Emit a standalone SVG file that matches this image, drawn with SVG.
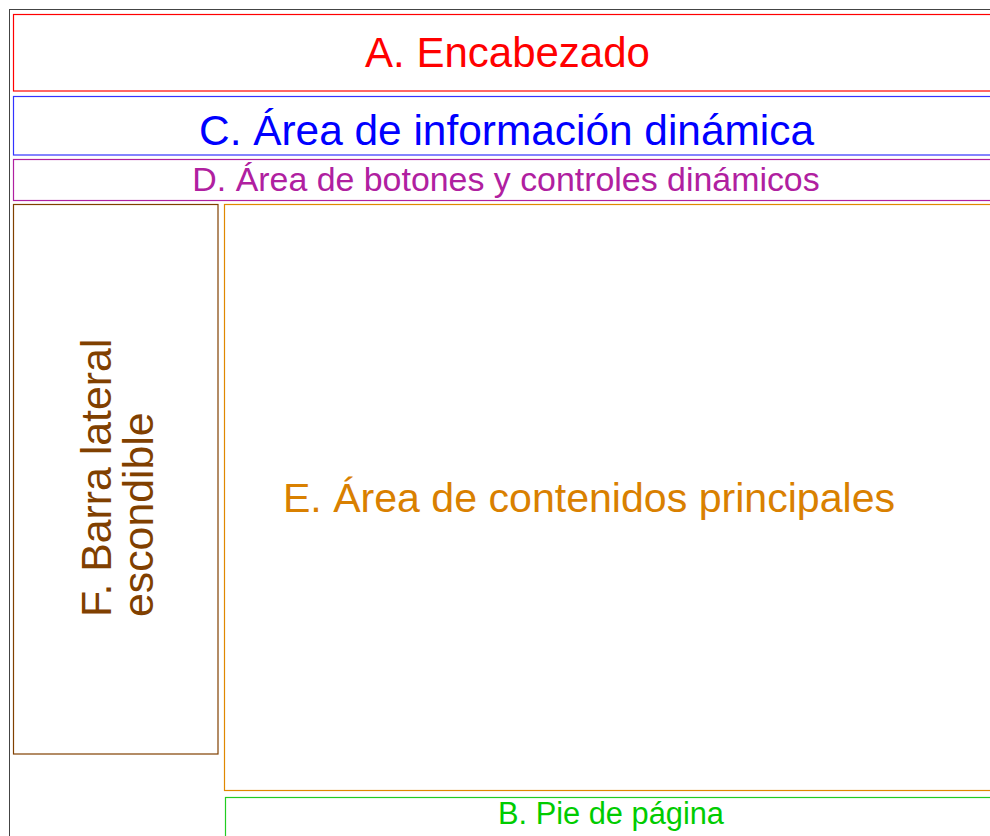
<svg xmlns="http://www.w3.org/2000/svg" width="990" height="836" viewBox="0 0 990 836">
<style>
.box{fill:none;stroke-width:1.2}
.t{font-family:"Liberation Sans",Arial,sans-serif}
</style>
<rect x="0" y="0" width="990" height="836" fill="#fff"/>
<g id="frame"><rect x="9.5" y="9.5" width="1000" height="900" fill="none" stroke="#444" stroke-width="1"/></g>
<g id="A"><rect class="box" x="13.5" y="14.5" width="1000" height="76.5" stroke="#ff0000"/>
<text class="t" x="507.5" y="67" font-size="42" fill="#ff0000" text-anchor="middle">A. Encabezado</text></g>
<g id="C"><rect class="box" x="13.5" y="96.5" width="1000" height="58.5" stroke="#3333ff"/>
<text class="t" x="506.5" y="145" font-size="42.4" fill="#0000ff" text-anchor="middle">C. Área de información dinámica</text></g>
<g id="D"><rect class="box" x="13.5" y="159.5" width="1000" height="41" stroke="#b020a0"/>
<text class="t" x="506" y="191" font-size="33.9" fill="#b020a0" text-anchor="middle">D. Área de botones y controles dinámicos</text></g>
<g id="F"><rect class="box" x="13.5" y="204.5" width="204.5" height="549.5" stroke="#804000"/>
<text class="t" font-size="42.8" fill="#804000" transform="translate(111,617) rotate(-90)">F. Barra lateral</text>
<text class="t" font-size="42.8" fill="#804000" transform="translate(153,617) rotate(-90)">escondible</text></g>
<g id="E"><rect class="box" x="224.5" y="204.5" width="800" height="586" stroke="#e08800"/>
<text class="t" x="589" y="511.5" font-size="41.1" fill="#d98000" text-anchor="middle">E. Área de contenidos principales</text></g>
<g id="B"><rect class="box" x="225.5" y="797.5" width="800" height="100" stroke="#22cc22"/>
<text class="t" x="611" y="824" font-size="30.8" fill="#00cc00" text-anchor="middle">B. Pie de página</text></g>
<g id="connectors"/>
</svg>
